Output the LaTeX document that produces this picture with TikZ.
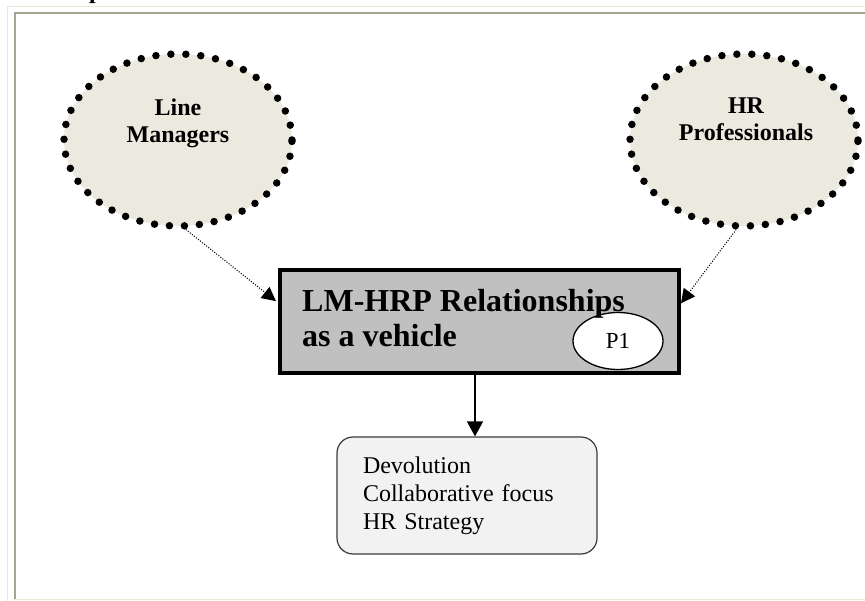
\documentclass[tikz,border=0pt]{standalone}
\usepackage{fontspec}
\setmainfont{Liberation Serif}
\usetikzlibrary{shapes.geometric,arrows.meta,calc,backgrounds}
\definecolor{bubblefill}{RGB}{236,233,222}
\definecolor{framebeige}{RGB}{236,233,214}
\definecolor{framegray}{RGB}{166,163,146}
\definecolor{boxgray}{RGB}{192,192,192}
\definecolor{notefill}{RGB}{242,242,242}
\definecolor{noteedge}{RGB}{60,60,60}
\tikzset{
  bubble/.style={ellipse, draw=black, fill=bubblefill, line width=7.5pt,
    line cap=round, dash pattern=on 0pt off 15pt,
    minimum width=228pt, minimum height=172pt, inner sep=0pt},
  bubbletext/.style={anchor=north, align=center, inner sep=0pt,
    font=\bfseries\fontsize{24}{27}\selectfont},
  mainbox/.style={rectangle, draw=black, fill=boxgray, line width=4pt,
    minimum width=399pt, minimum height=103pt, inner sep=0pt},
  maintext/.style={anchor=base west, inner sep=0pt,
    font=\bfseries\fontsize{32}{35}\selectfont},
  tag/.style={ellipse, draw=black, fill=white, line width=1.3pt,
    minimum width=90pt, minimum height=57pt, inner sep=0pt,
    font=\fontsize{23}{26}\selectfont},
  notebox/.style={rectangle, rounded corners=16pt, draw=noteedge, fill=notefill,
    line width=1.2pt, minimum height=117pt, text width=208pt, inner xsep=26pt,
    align=left, font=\fontsize{24}{28}\selectfont},
  linkarrow/.style={line width=1.1pt, dash pattern=on 1pt off 1.6pt,
    -{Triangle[length=14pt,width=14pt]}},
  flowarrow/.style={line width=1.6pt, -{Triangle[length=15pt,width=16pt]}},
  frameline/.style={line width=1.6pt}
}
\begin{document}
\begin{tikzpicture}[x=1pt,y=-1pt]
\useasboundingbox (0,0) rectangle (865,601);
\clip (0,0) rectangle (865,601);

% page frame
\draw[frameline, framebeige] (7.5,601) -- (7.5,6.5) -- (865,6.5);
\draw[frameline, framebeige] (14,599.5) -- (865,599.5);
\draw[line width=2pt, framegray] (14.5,599) -- (14.5,13.5) -- (865,13.5);

% descender of the heading above the frame
\node[anchor=base west, inner sep=0pt, font=\bfseries\fontsize{24}{28}\selectfont]
  (heading) at (89,-1.2) {p};

% actors
\node[bubble] (lm) at (178,140) {};
\node[bubbletext] (lmtext) at (178,99) {Line\\Managers};
\node[bubble] (hr) at (744,140) {};
\node[bubbletext] (hrtext) at (746,98) {HR\\Professionals};

% central relationship box
\node[mainbox] (main) at (479.5,321.5) {};
\node[tag] (p1) at (618,341) {P1};
\node[maintext] (title1) at (302,312) {LM-HRP Relationships};
\node[maintext] (title2) at (302,347) {as a vehicle};

% outcomes
\node[notebox] (res) at (467,495.5) {Devolution\\Collaborative focus\\HR Strategy};

% connectors
\begin{pgfonlayer}{background}
\draw[linkarrow] (lm.-85) -- ([xshift=-2pt]$(main.north west)!0.31!(main.south west)$);
\draw[linkarrow] (hr.-95) -- ($(main.north east)!0.33!(main.south east)$);
\end{pgfonlayer}
\draw[flowarrow] ([xshift=-4.5pt]main.south) -- ([xshift=8pt]res.north);
\end{tikzpicture}
\end{document}
